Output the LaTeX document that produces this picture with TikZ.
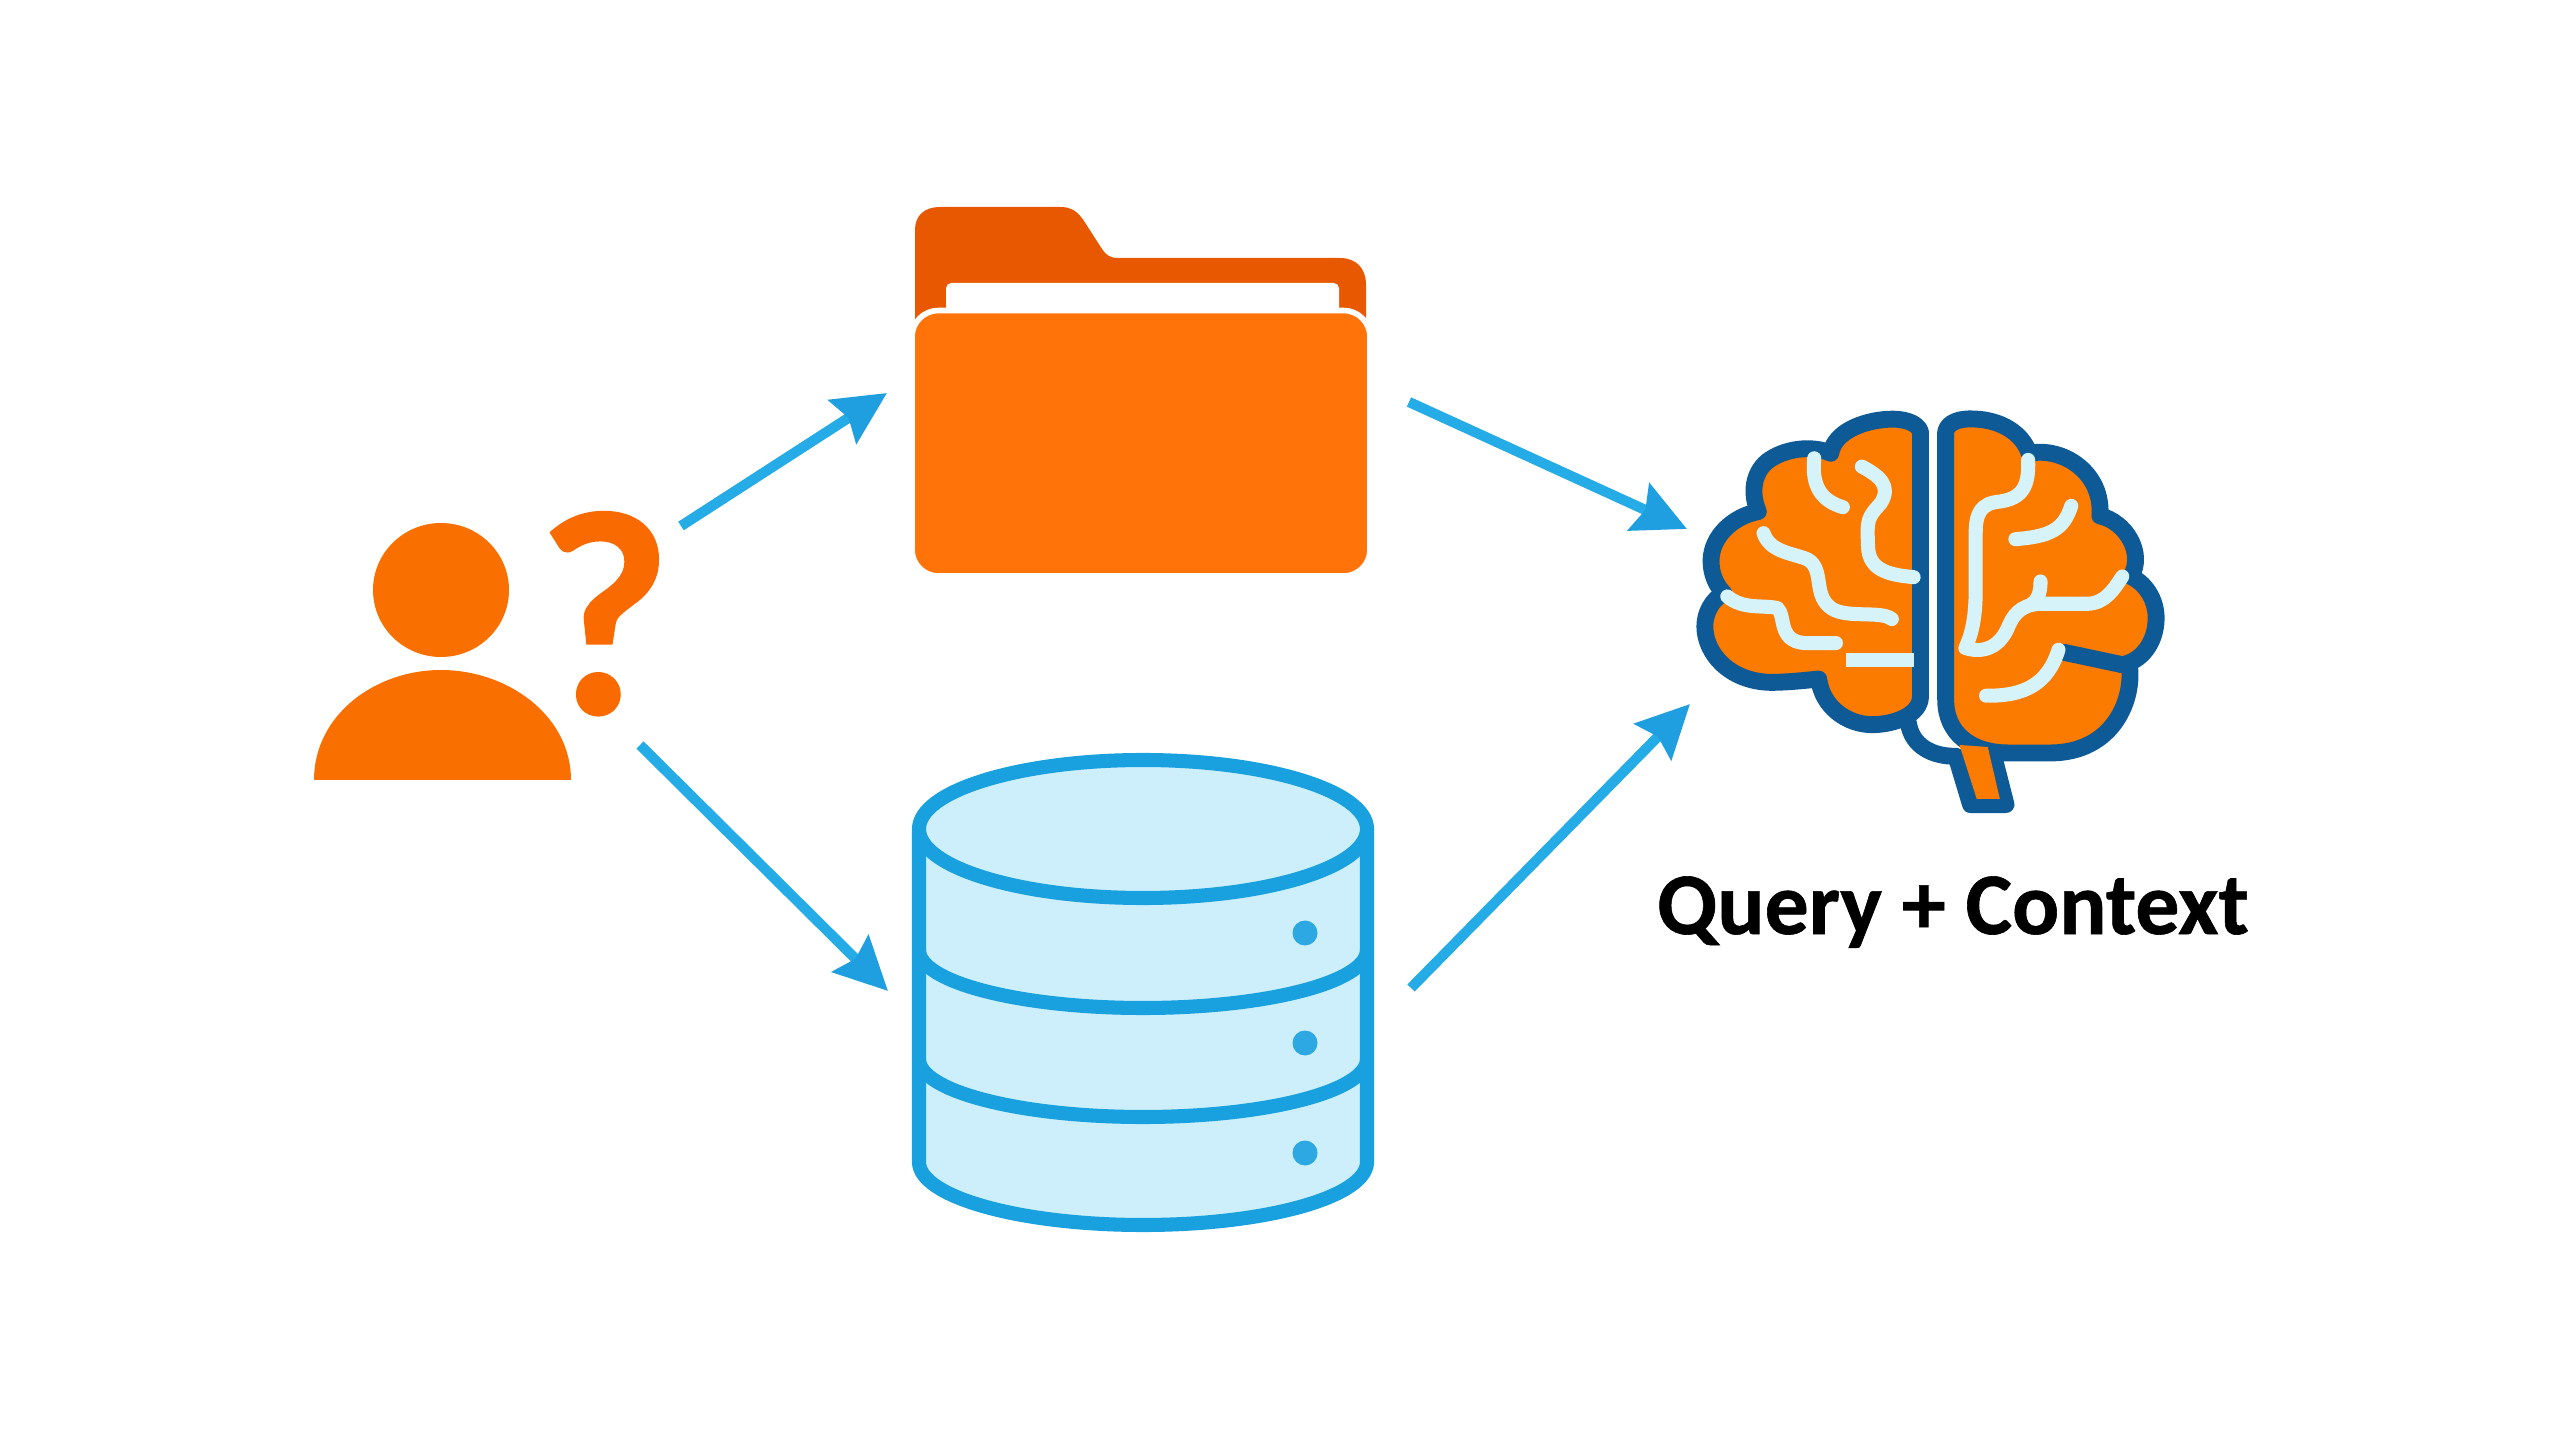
\documentclass[tikz,border=0pt]{standalone}
\usepackage{fontspec}
\usepackage{tikz}
\usetikzlibrary{arrows.meta}
\newfontfamily\captionfont{Carlito}[BoldFeatures={FakeBold=0.7}]
\newfontfamily\askfont{Lato}[BoldFeatures={FakeBold=1.2}]
\definecolor{userorange}{HTML}{F97000}
\definecolor{askorange}{HTML}{F96A00}
\definecolor{tabdark}{HTML}{E75800}
\definecolor{folderfront}{HTML}{FF7308}
\definecolor{dbline}{HTML}{18A0DF}
\definecolor{dbfill}{HTML}{CDEFFB}
\definecolor{dbdot}{HTML}{2EA8E2}
\definecolor{flowshaft}{HTML}{25ABE6}
\definecolor{flowtip}{HTML}{1F9FE0}
\definecolor{brainline}{HTML}{0E5A96}
\definecolor{brainfill}{HTML}{FB7A00}
\definecolor{gyrus}{HTML}{D5F3F8}
\tikzset{
    flow/.style={line width=2.9pt, flowshaft, -{Stealth[length=15pt, width=14.5pt, inset=2pt, color=flowtip]}},
    dbstroke/.style={draw=dbline, line width=4pt, line join=round},
    brainstroke/.style={draw=brainline, line width=4.8pt, line join=round, line cap=round},
    gyrusline/.style={draw=gyrus, line width=4pt, line cap=round, line join=round},
}

\begin{document}
\begin{tikzpicture}[x=0.01cm, y=-0.01cm]
    \useasboundingbox (0, 0) rectangle (2560, 1440);
    % --- left: user and question mark ---
    \fill[userorange] (441, 590) ellipse [x radius=68, y radius=67];
    \fill[userorange] (314, 780) .. controls (314, 715) and (375, 670) .. (441, 670)
        .. controls (507, 670) and (571, 715) .. (571, 780) -- cycle;
    \node[anchor=base, inner sep=0pt, text=askorange] (ask) at (605, 713) {\askfont\bfseries\fontsize{78}{78}\selectfont ?};
    % --- middle top: folder ---
    \fill[tabdark] (915, 340) -- (915, 230) .. controls (915, 215) and (925, 207) .. (940, 207) -- (1060, 207)
        .. controls (1072, 207) and (1078, 212) .. (1084, 221) -- (1102, 249)
        .. controls (1106, 255) and (1110, 258) .. (1118, 258) -- (1340, 258)
        .. controls (1356, 258) and (1366, 268) .. (1366, 285) -- (1366, 340) -- cycle;
    \fill[white, rounded corners=1.5pt] (946, 283) rectangle (1339, 330);
    \filldraw[draw=white, fill=folderfront, line width=1.6pt, rounded corners=7.5pt] (912, 310.5) rectangle (1370, 576);
    % --- middle bottom: database ---
    \def\bodypath{(919, 829) -- (919, 1162) arc[start angle=180, end angle=0, x radius=224, y radius=63] -- (1367, 829)}
    \fill[dbfill] \bodypath -- cycle;
    \draw[dbstroke] \bodypath;
    \foreach \bandy in {950, 1059} {
        \draw[dbstroke] (919, \bandy) arc[start angle=180, end angle=0, x radius=224, y radius=58];
    }
    \draw[dbstroke, fill=dbfill] (1143, 829) ellipse [x radius=224, y radius=69];
    \foreach \doty in {933, 1043, 1153} {
        \fill[dbdot] (1305, \doty) circle (12.5);
    }
    % --- right: brain, coordinates as read from the crop ---
    \begin{scope}[shift={(1660, 390)}, xscale=0.345, yscale=0.333]
        \def\leftpath{(755, 125) .. controls (745, 95) and (700, 85) .. (660, 88)
            .. controls (590, 92) and (505, 125) .. (495, 190)
            .. controls (440, 165) and (360, 175) .. (310, 215)
            .. controls (270, 250) and (262, 310) .. (285, 365)
            .. controls (210, 380) and (150, 440) .. (148, 510)
            .. controls (147, 555) and (165, 590) .. (185, 610)
            .. controls (150, 630) and (130, 670) .. (130, 710)
            .. controls (130, 790) and (200, 875) .. (320, 878)
            .. controls (370, 878) and (420, 872) .. (460, 868)
            .. controls (470, 950) and (540, 1005) .. (615, 1005)
            .. controls (680, 1005) and (755, 975) .. (755, 920)}
        \def\rightpath{(828, 125) .. controls (835, 95) and (870, 85) .. (910, 87)
            .. controls (990, 90) and (1050, 130) .. (1070, 190)
            .. controls (1170, 170) and (1285, 250) .. (1275, 378)
            .. controls (1350, 395) and (1405, 490) .. (1365, 560)
            .. controls (1415, 585) and (1440, 640) .. (1438, 690)
            .. controls (1436, 760) and (1395, 815) .. (1340, 825)
            -- (1360, 825) .. controls (1375, 920) and (1320, 1090) .. (1130, 1090)
            -- (1010, 1090) .. controls (900, 1090) and (828, 1030) .. (828, 930)}
        \filldraw[brainstroke, fill=brainfill] \leftpath -- cycle;
        \filldraw[brainstroke, fill=brainfill] \rightpath -- cycle;
        \draw[brainstroke] (1340, 825) -- (1172, 788);
        % brain stem
        \draw[brainstroke] (720, 1000) .. controls (730, 1070) and (790, 1100) .. (855, 1100);
        \filldraw[brainstroke, fill=brainfill] (858, 1100) -- (900, 1245) -- (1003, 1245) -- (966, 1095);
        \fill[brainfill] (868, 1066) -- (950, 1072) -- (985, 1228) -- (918, 1228) -- cycle;
        % folds
        \draw[gyrusline] (447, 205) .. controls (440, 280) and (460, 330) .. (530, 352);
        \draw[gyrusline] (585, 230) .. controls (640, 260) and (670, 290) .. (640, 340)
            .. controls (600, 385) and (600, 390) .. (603, 470) .. controls (605, 540) and (660, 555) .. (735, 562);
        \draw[gyrusline] (300, 430) .. controls (320, 490) and (390, 490) .. (430, 510)
            .. controls (475, 540) and (445, 610) .. (490, 650) .. controls (530, 690) and (640, 660) .. (672, 688);
        \draw[gyrusline] (195, 620) .. controls (240, 660) and (300, 645) .. (340, 655)
            .. controls (365, 675) and (340, 755) .. (420, 760) -- (510, 760);
        \draw[gyrusline, line cap=butt] (540, 810) -- (735, 810);
        \draw[gyrusline] (1067, 210) .. controls (1070, 290) and (1050, 325) .. (985, 335)
            .. controls (930, 340) and (915, 370) .. (915, 430) -- (915, 600)
            .. controls (915, 680) and (905, 730) .. (885, 775)
            .. controls (950, 795) and (990, 760) .. (1010, 710)
            .. controls (1030, 660) and (1060, 640) .. (1120, 642) -- (1240, 642)
            .. controls (1290, 640) and (1315, 600) .. (1340, 560);
        \draw[gyrusline] (1075, 645) .. controls (1095, 630) and (1103, 610) .. (1103, 575);
        \draw[gyrusline] (1192, 348) .. controls (1170, 420) and (1130, 440) .. (1030, 448);
        \draw[gyrusline] (1155, 780) .. controls (1125, 880) and (1060, 920) .. (945, 918);
    \end{scope}
    \node[anchor=base, inner sep=0pt] (caption) at (1953, 934) {\captionfont\bfseries\fontsize{25}{25}\selectfont Query + Context};
    % --- arrows ---
    \coordinate (userup) at (681, 526);
    \coordinate (folderin) at (887, 393);
    \coordinate (userdown) at (640, 745);
    \coordinate (dbin) at (888, 991);
    \coordinate (folderout) at (1409, 402);
    \coordinate (brainup) at (1687, 529);
    \coordinate (dbout) at (1411, 988);
    \coordinate (braindown) at (1690, 704);
    \draw[flow] (userup) -- (folderin);
    \draw[flow] (userdown) -- (dbin);
    \draw[flow] (folderout) -- (brainup);
    \draw[flow] (dbout) -- (braindown);
\end{tikzpicture}
\end{document}
